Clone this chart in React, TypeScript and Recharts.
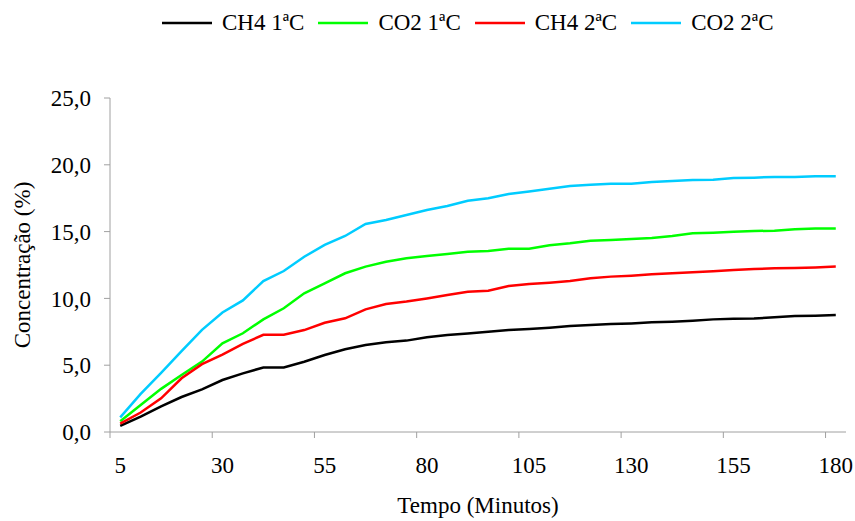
import React from 'react';
import { LineChart, Line, XAxis, YAxis, Label } from 'recharts';

const times = [5, 10, 15, 20, 25, 30, 35, 40, 45, 50, 55, 60, 65, 70, 75, 80, 85, 90, 95, 100, 105, 110, 115, 120, 125, 130, 135, 140, 145, 150, 155, 160, 165, 170, 175, 180];

const ch4First = [0.45, 1.15, 1.92, 2.62, 3.19, 3.89, 4.39, 4.83, 4.83, 5.26, 5.76, 6.19, 6.51, 6.71, 6.84, 7.09, 7.26, 7.38, 7.51, 7.63, 7.71, 7.81, 7.93, 8.01, 8.08, 8.13, 8.21, 8.26, 8.33, 8.43, 8.48, 8.5, 8.58, 8.68, 8.71, 8.76];
const co2First = [0.8, 2.02, 3.23, 4.27, 5.27, 6.64, 7.39, 8.43, 9.26, 10.38, 11.13, 11.88, 12.38, 12.75, 13.0, 13.17, 13.32, 13.5, 13.55, 13.72, 13.72, 13.97, 14.12, 14.32, 14.37, 14.45, 14.52, 14.67, 14.87, 14.92, 14.99, 15.04, 15.07, 15.17, 15.24, 15.24];
const ch4Second = [0.62, 1.46, 2.52, 4.02, 5.08, 5.8, 6.59, 7.28, 7.28, 7.63, 8.18, 8.51, 9.18, 9.58, 9.76, 10.0, 10.25, 10.5, 10.58, 10.93, 11.08, 11.18, 11.3, 11.5, 11.63, 11.7, 11.8, 11.88, 11.95, 12.03, 12.13, 12.2, 12.25, 12.28, 12.32, 12.38];
const co2Second = [1.1, 2.85, 4.42, 6.05, 7.65, 8.95, 9.85, 11.3, 12.05, 13.12, 14.0, 14.67, 15.57, 15.87, 16.24, 16.62, 16.92, 17.31, 17.49, 17.81, 18.01, 18.21, 18.41, 18.51, 18.59, 18.59, 18.71, 18.79, 18.86, 18.89, 19.01, 19.04, 19.09, 19.09, 19.14, 19.14];

const yTicks = [0, 5, 10, 15, 20, 25];

const series = [
  { key: 'ch4a', name: 'CH4 1ªC', color: '#000000', values: ch4First },
  { key: 'co2a', name: 'CO2 1ªC', color: '#00ff00', values: co2First },
  { key: 'ch4b', name: 'CH4 2ªC', color: '#ff0000', values: ch4Second },
  { key: 'co2b', name: 'CO2 2ªC', color: '#00ccff', values: co2Second },
];

const data = times.map((t, i) => {
  const row: any = { t };
  series.forEach((s) => {
    row[s.key] = s.values[i];
  });
  return row;
});

const FONT = "'Liberation Serif', Tinos, 'Times New Roman', 'DejaVu Serif', serif";
const AXIS = '#a0a0a0';
const FS = 23;

const XTick = (props: any) => {
  const { x, y, payload } = props;
  const half = payload && typeof payload.offset === 'number' && payload.offset > 0 ? payload.offset : 10.2;
  return (
    <g>
      <line x1={x - half} x2={x - half} y1={y} y2={y + 6} stroke={AXIS} strokeWidth={1} />
      <text x={x} y={y + 41} textAnchor="middle" fill="#000" fontSize={FS} style={{ fontFamily: FONT }}>
        {payload.value}
      </text>
    </g>
  );
};

const fmt = (v: number) => v.toFixed(1).replace('.', ',');

export default function App() {
  return (
    <div style={{ position: 'absolute', left: 0, top: 0, width: 855, height: 521, background: '#fff', fontFamily: FONT }}>
      <div
        style={{
          position: 'absolute',
          left: 162,
          top: 8,
          display: 'flex',
          alignItems: 'center',
          gap: 14,
          fontSize: FS,
          fontFamily: FONT,
          color: '#000',
          lineHeight: '30px',
          whiteSpace: 'nowrap',
        }}
      >
        {series.map((s) => (
          <div key={s.key} style={{ display: 'flex', alignItems: 'center' }}>
            <svg width={50} height={6} style={{ display: 'block' }}>
              <line x1={0} x2={50} y1={3} y2={3} stroke={s.color} strokeWidth={2.5} />
            </svg>
            <span style={{ marginLeft: 10 }}>{s.name}</span>
          </div>
        ))}
      </div>
      <LineChart width={855} height={521} data={data} margin={{ top: 98, right: 9, bottom: 0, left: 0 }} style={{ fontFamily: FONT }}>
        <XAxis
          dataKey="t"
          type="category"
          scale="band"
          interval={4}
          height={89}
          axisLine={{ stroke: AXIS, strokeWidth: 1 }}
          tickLine={false}
          tickSize={0}
          tickMargin={0}
          tick={<XTick />}
        >
          <Label value="Tempo (Minutos)" position="insideBottom" offset={8} fill="#000" fontSize={FS} style={{ fontFamily: FONT }} />
        </XAxis>
        <YAxis
          type="number"
          domain={[0, 25]}
          ticks={yTicks}
          interval={0}
          width={110}
          axisLine={{ stroke: AXIS, strokeWidth: 1 }}
          tickLine={{ stroke: AXIS, strokeWidth: 1 }}
          tickSize={6}
          tickMargin={13}
          tickFormatter={fmt}
          tick={{ fill: '#000', fontSize: FS, style: { fontFamily: FONT } }}
        >
          <Label value="Concentração (%)" angle={-90} position="center" dx={-33} fill="#000" fontSize={FS} style={{ fontFamily: FONT }} />
        </YAxis>
        {series.map((s) => (
          <Line
            key={s.key}
            type="linear"
            dataKey={s.key}
            name={s.name}
            stroke={s.color}
            strokeWidth={2.5}
            dot={false}
            activeDot={false}
            isAnimationActive={false}
          />
        ))}
      </LineChart>
    </div>
  );
}
